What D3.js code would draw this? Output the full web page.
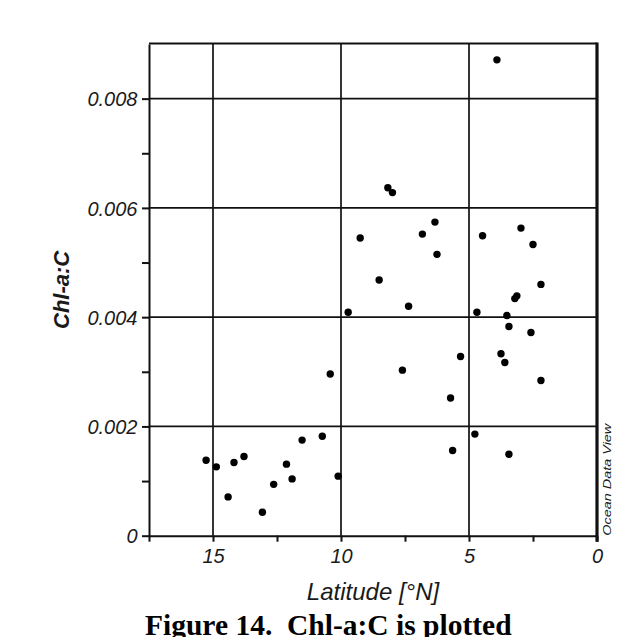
<!DOCTYPE html>
<html>
<head>
<meta charset="utf-8">
<script src="https://cdn.jsdelivr.net/npm/d3@7/dist/d3.min.js"></script>
<style>
  html, body { margin: 0; padding: 0; background: #ffffff; }
  svg { display: block; }
</style>
</head>
<body>
<script>
// Station latitude (°N) and Chl-a:C ratio for each sample
const latitude = [
  3.91, 8.17, 7.99, 9.25, 6.33, 6.82, 6.25, 4.47, 2.97, 2.50,
  8.51, 2.19, 3.21, 3.13, 9.72, 7.36, 4.69, 3.52, 3.44, 2.58,
  10.42, 7.60, 5.33, 3.75, 3.60, 2.19, 5.72, 4.77, 5.64, 3.44,
  15.27, 14.87, 14.41, 14.18, 13.79, 13.07, 12.63, 12.13, 11.91, 11.52,
  10.73, 10.11
];
const chlC = [
  0.00871, 0.00637, 0.00628, 0.00545, 0.00574, 0.00552, 0.00515, 0.00549, 0.00563, 0.00533,
  0.00468, 0.00460, 0.00434, 0.00439, 0.00409, 0.00420, 0.00409, 0.00403, 0.00383, 0.00372,
  0.00296, 0.00303, 0.00328, 0.00333, 0.00317, 0.00284, 0.00252, 0.00186, 0.00156, 0.00149,
  0.00138, 0.00126, 0.00071, 0.00134, 0.00145, 0.00043, 0.00094, 0.00131, 0.00104, 0.00175,
  0.00182, 0.00109
];
const xMajorTicks = [15, 10, 5, 0];
const xMinorTicks = [17.5, 15, 12.5, 10, 7.5, 5, 2.5, 0];
const yMajorTicks = [0, 0.002, 0.004, 0.006, 0.008];
const yMinorTicks = [0, 0.001, 0.002, 0.003, 0.004, 0.005, 0.006, 0.007, 0.008];
const yTickLabels = ["0", "0.002", "0.004", "0.006", "0.008"];

const W = 636, H = 637;
const plotLeft = 149, plotRight = 597, plotTop = 44, plotBottom = 535.7;
const SANS = "'Liberation Sans', Arial, sans-serif";
const SERIF = "'Liberation Serif', 'Times New Roman', serif";

const svg = d3.select("body").append("svg")
  .attr("width", W).attr("height", H);

const x = d3.scaleLinear().domain([17.5, 0]).range([plotLeft, plotRight]);
const y = d3.scaleLinear().domain([0, 0.009]).range([plotBottom, plotTop]);

// grid lines at the labelled ticks
const grid = svg.append("g").attr("stroke", "#111").attr("stroke-width", 1.7);
grid.selectAll("line.gx").data(xMajorTicks.filter(d => d !== 0)).join("line")
  .attr("x1", d => x(d)).attr("x2", d => x(d))
  .attr("y1", plotTop).attr("y2", plotBottom);
grid.selectAll("line.gy").data(yMajorTicks.filter(d => d !== 0)).join("line")
  .attr("x1", plotLeft).attr("x2", plotRight)
  .attr("y1", d => y(d)).attr("y2", d => y(d));

// bottom axis: ticks every 2.5°, labels every 5°
const xAxis = d3.axisBottom(x)
  .tickValues(xMinorTicks)
  .tickSize(6)
  .tickSizeOuter(0)
  .tickFormat(d => xMajorTicks.includes(d) ? String(d) : "");
const gx = svg.append("g").attr("transform", `translate(0,${plotBottom})`).call(xAxis);
gx.select(".domain").attr("stroke", "#111").attr("stroke-width", 2);
gx.selectAll(".tick line").attr("stroke", "#111").attr("stroke-width", 2);
gx.selectAll(".tick text")
  .attr("y", 27.6).attr("dy", null)
  .style("font-family", SANS).style("font-size", "20px").style("font-style", "italic")
  .attr("fill", "#1a1a1a");

// left axis: ticks every 0.001, labels every 0.002
const yAxis = d3.axisLeft(y)
  .tickValues(yMinorTicks)
  .tickSize(7)
  .tickSizeOuter(0)
  .tickFormat(d => {
    const i = yMajorTicks.findIndex(v => Math.abs(v - d) < 1e-9);
    return i >= 0 ? yTickLabels[i] : "";
  });
const gy = svg.append("g").attr("transform", `translate(${plotLeft},0)`).call(yAxis);
gy.select(".domain").attr("stroke", "#111").attr("stroke-width", 2);
gy.selectAll(".tick line").attr("stroke", "#111").attr("stroke-width", 2);
gy.selectAll(".tick text")
  .attr("x", -11.5).attr("dy", "0.36em")
  .style("font-family", SANS).style("font-size", "20px").style("font-style", "italic")
  .attr("fill", "#1a1a1a");

// frame: top edge and heavier right edge
svg.append("line")
  .attr("x1", plotLeft).attr("x2", plotRight)
  .attr("y1", plotTop - 0.5).attr("y2", plotTop - 0.5)
  .attr("stroke", "#111").attr("stroke-width", 2);
svg.append("line")
  .attr("x1", plotRight).attr("x2", plotRight)
  .attr("y1", plotTop - 1.5).attr("y2", plotBottom + 6)
  .attr("stroke", "#111").attr("stroke-width", 3.2);

// samples
svg.append("g").selectAll("circle")
  .data(latitude.map((lat, i) => ({ lat, v: chlC[i] })))
  .join("circle")
  .attr("cx", d => x(d.lat))
  .attr("cy", d => y(d.v))
  .attr("r", 3.7)
  .attr("fill", "#000");

// axis titles
svg.append("text")
  .attr("transform", `translate(69,${(plotTop + plotBottom) / 2}) rotate(-90)`)
  .attr("text-anchor", "middle")
  .attr("fill", "#1a1a1a")
  .style("font-family", SANS).style("font-size", "22px")
  .style("font-weight", "bold").style("font-style", "italic")
  .text("Chl-a:C");

svg.append("text")
  .attr("x", (plotLeft + plotRight) / 2).attr("y", 600)
  .attr("text-anchor", "middle")
  .attr("fill", "#1a1a1a")
  .style("font-family", SANS).style("font-size", "24px").style("font-style", "italic")
  .text("Latitude [°N]");

// software credit beside the frame
svg.append("text")
  .attr("transform", `translate(611,${plotBottom}) rotate(-90)`)
  .attr("fill", "#1a1a1a")
  .style("font-family", SANS).style("font-size", "11px").style("font-style", "italic")
  .attr("textLength", 112).attr("lengthAdjust", "spacingAndGlyphs")
  .text("Ocean Data View");

// figure caption
svg.append("text")
  .attr("x", 145).attr("y", 635)
  .attr("fill", "#000")
  .style("font-family", SERIF).style("font-size", "29.5px").style("font-weight", "bold")
  .style("white-space", "pre")
  .text("Figure 14.  Chl-a:C is plotted");
</script>
</body>
</html>
